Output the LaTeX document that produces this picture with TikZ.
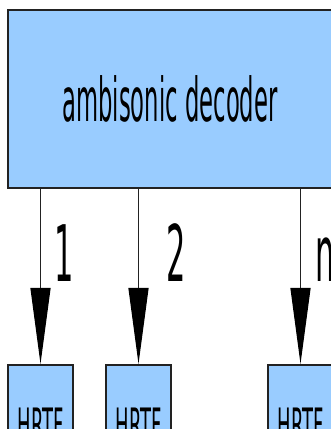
\documentclass[tikz,border=0pt]{standalone}
\usepackage{fontspec}
\setmainfont{DejaVu Sans}
\usetikzlibrary{arrows.meta}

\definecolor{boxblue}{HTML}{99CCFF}
\definecolor{edgegray}{HTML}{222222}
\newcommand{\narrowtext}[3][0.39]{\scalebox{#1}[1]{\fontsize{#2}{#2}\selectfont #3}}

\tikzset{
  blockbox/.style={draw=edgegray, line width=2.4pt, fill=boxblue, rectangle, inner sep=0pt},
  hrtfbox/.style={blockbox, minimum width=65pt, minimum height=120pt, anchor=north},
  chanarrow/.style={draw=edgegray, line width=1.2pt, -{Triangle[length=76pt,width=20pt,color=black]}},
  chanlabel/.style={anchor=base, inner sep=0pt}
}

\begin{document}
\begin{tikzpicture}[x=1pt, y=1pt]
\useasboundingbox (0,0) rectangle (331,429);
\clip (0,0) rectangle (331,429);

\node[blockbox, minimum width=324pt, minimum height=178pt] (decoder) at (170, 330) {\narrowtext[0.375]{60.5pt}{ambisonic decoder}};

\node[hrtfbox] (hrtf1) at (40.5, 65) {\narrowtext{46pt}{HRTF}};
\node[hrtfbox] (hrtf2) at (138.5, 65) {\narrowtext{46pt}{HRTF}};
\node[hrtfbox] (hrtfn) at (300.5, 65) {\narrowtext{46pt}{HRTF}};

\draw[chanarrow] (decoder.south -| hrtf1) -- (hrtf1.north);
\draw[chanarrow] (decoder.south -| hrtf2) -- (hrtf2.north);
\draw[chanarrow] (decoder.south -| hrtfn) -- (hrtfn.north);

\node[chanlabel] (lab1) at (64.5, 147) {\narrowtext{78pt}{1}};
\node[chanlabel] (lab2) at (176.5, 147) {\narrowtext{78pt}{2}};
\node[chanlabel] (labn) at (325.5, 147) {\narrowtext{78pt}{n}};
\end{tikzpicture}
\end{document}
